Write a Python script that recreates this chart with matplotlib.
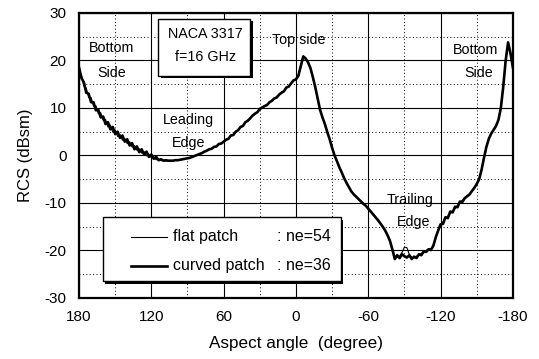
import numpy as np
import matplotlib
matplotlib.use("Agg")
import matplotlib.pyplot as plt
from matplotlib.patches import Rectangle

plt.rcParams["font.family"] = ["Liberation Sans", "DejaVu Sans"]
plt.rcParams["axes.unicode_minus"] = False

# ── data ─────────────────────────────────────────────────────────────────────
angle = np.arange(180, -181, -2)

curved_rcs = [
    18.5, 16.3, 15.4, 13.2, 13.0, 11.2, 11.2, 9.5, 9.6, 8.0,
    8.2, 6.6, 7.0, 5.5, 6.0, 4.5, 5.0, 3.7, 4.2, 2.9,
    3.4, 2.1, 2.6, 1.3, 1.9, 0.7, 1.3, 0.2, 0.8, -0.3,
    0.2, -0.7, -0.3, -1.0, -0.8, -1.1, -1.0, -1.1, -1.1, -1.1,
    -1.0, -1.0, -0.9, -0.8, -0.7, -0.6, -0.5, -0.3, -0.1, 0.1,
    0.3, 0.5, 0.8, 1.0, 1.3, 1.4, 1.8, 1.9, 2.4, 2.5,
    2.9, 3.3, 3.5, 4.2, 4.3, 5.0, 5.3, 6.0, 6.2, 7.0,
    7.3, 7.8, 8.4, 8.8, 9.1, 9.8, 10.1, 10.4, 10.6, 11.2,
    11.5, 12.0, 12.2, 12.8, 13.2, 13.5, 14.3, 14.5, 15.2, 15.8,
    16.0, 16.8, 18.8, 20.8, 20.4, 19.6, 18.4, 16.5, 14.4, 12.0,
    9.6, 8.0, 6.6, 4.9, 3.4, 1.6, 0.0, -1.2, -2.5, -3.6,
    -4.8, -5.8, -6.7, -7.6, -8.2, -8.7, -9.2, -9.7, -10.2, -10.6,
    -11.2, -11.8, -12.4, -13.0, -13.6, -14.3, -15.0, -15.8, -16.8, -18.0,
    -19.8, -21.8, -21.0, -21.6, -20.8, -21.2, -21.5, -21.0, -21.8, -21.3,
    -21.6, -20.8, -21.0, -20.2, -20.3, -19.8, -19.9, -19.0, -17.2, -15.8,
    -14.5, -14.4, -13.0, -13.2, -11.8, -12.0, -10.8, -10.9, -9.7, -9.8,
    -9.0, -8.6, -8.2, -7.5, -6.8, -6.0, -5.0, -3.0, -0.5, 1.8,
    3.5, 4.6, 5.4, 6.2, 7.5, 10.0, 14.5, 20.0, 23.8, 21.5,
    18.5,
]

flat_rcs = [
    18.0, 17.0, 14.6, 14.2, 12.2, 12.2, 10.4, 10.5, 8.8, 9.0,
    7.4, 7.6, 6.0, 6.4, 4.9, 5.4, 4.0, 4.4, 3.2, 3.6,
    2.5, 2.9, 1.8, 2.1, 1.1, 1.4, 0.5, 0.8, -0.1, 0.3,
    -0.5, -0.3, -0.9, -0.7, -1.1, -1.0, -1.2, -1.1, -1.2, -1.1,
    -1.0, -1.0, -0.9, -0.8, -0.7, -0.6, -0.5, -0.3, -0.1, 0.1,
    0.3, 0.6, 0.7, 1.1, 1.2, 1.5, 1.7, 2.0, 2.3, 2.6,
    2.8, 3.4, 3.6, 4.1, 4.4, 4.9, 5.4, 5.9, 6.3, 6.9,
    7.4, 7.9, 8.3, 8.7, 9.2, 9.7, 10.0, 10.3, 10.8, 11.1,
    11.6, 11.9, 12.4, 12.7, 13.3, 13.6, 14.1, 14.6, 15.0, 15.7,
    16.2, 16.6, 18.6, 21.0, 20.6, 19.7, 18.3, 16.3, 14.2, 11.9,
    9.5, 8.1, 6.5, 5.0, 3.3, 1.7, 0.1, -1.3, -2.4, -3.7,
    -4.7, -5.9, -6.6, -7.5, -8.3, -8.6, -9.3, -9.6, -10.3, -10.5,
    -11.3, -11.7, -12.5, -12.9, -13.7, -14.2, -15.1, -15.7, -16.9, -17.8,
    -19.6, -21.3, -21.5, -21.2, -20.4, -19.3, -19.4, -20.8, -21.4, -21.6,
    -21.2, -21.0, -20.6, -20.5, -20.0, -19.6, -19.7, -18.8, -17.4, -15.6,
    -14.6, -14.0, -13.4, -12.8, -12.2, -11.6, -11.2, -10.5, -10.1, -9.4,
    -9.1, -8.5, -8.3, -7.4, -6.9, -6.1, -4.9, -3.1, -0.4, 1.9,
    3.4, 4.7, 5.5, 6.3, 7.4, 10.2, 14.8, 20.3, 23.6, 21.2,
    18.3,
]

x_ticks = [180, 120, 60, 0, -60, -120, -180]
y_ticks = [-30, -20, -10, 0, 10, 20, 30]

# ── figure ───────────────────────────────────────────────────────────────────
fig = plt.figure(figsize=(5.39, 3.59), dpi=100)
ax = fig.add_axes([0.1466, 0.170, 0.805, 0.794])

ax.plot(angle, flat_rcs, color="black", linewidth=0.8, zorder=3)
ax.plot(angle, curved_rcs, color="black", linewidth=1.9, zorder=4)

ax.set_xlim(180, -180)
ax.set_ylim(-30, 30)
ax.set_xticks(x_ticks)
ax.set_yticks(y_ticks)
ax.set_xticks(np.arange(150, -180, -60), minor=True)
ax.set_yticks(np.arange(-25, 30, 10), minor=True)
ax.grid(True, which="major", color="black", linewidth=0.8, linestyle="-")
ax.grid(True, which="minor", color="black", linewidth=0.7, linestyle=(0, (1, 2.5)))
ax.set_axisbelow(True)
ax.tick_params(which="both", length=0, labelsize=11, pad=9)
for s in ax.spines.values():
    s.set_linewidth(1.6)

ax.set_xlabel("Aspect angle  (degree)", fontsize=12.3, labelpad=8)
ax.set_ylabel("RCS (dBsm)", fontsize=12, labelpad=8)

# region labels
lab = dict(fontsize=10.3, ha="center", va="center", zorder=5)
ax.text(153, 22.6, "Bottom", **lab)
ax.text(153, 17.4, "Side", **lab)
ax.text(89, 7.5, "Leading", **lab)
ax.text(89, 2.6, "Edge", **lab)
ax.text(-2, 24.3, "Top side", **lab)
ax.text(-149, 22.2, "Bottom", **lab)
ax.text(-152, 17.4, "Side", **lab)
ax.text(-95, -9.4, "Trailing", **lab)
ax.text(-98, -14.0, "Edge", **lab)

# NACA box with shadow
def shadow_box(x0, y0, w, h):
    ax.add_patch(Rectangle((x0 + 0.006, y0 - 0.01), w, h, transform=ax.transAxes,
                           facecolor="black", edgecolor="none", zorder=6))
    ax.add_patch(Rectangle((x0, y0), w, h, transform=ax.transAxes,
                           facecolor="white", edgecolor="black", linewidth=1.0, zorder=7))

shadow_box(0.182, 0.780, 0.212, 0.200)
ax.text(0.292, 0.925, "NACA 3317", transform=ax.transAxes, fontsize=10.3,
        ha="center", va="center", zorder=8)
ax.text(0.292, 0.845, "f=16 GHz", transform=ax.transAxes, fontsize=10.3,
        ha="center", va="center", zorder=8)

# legend box drawn by hand
shadow_box(0.055, 0.058, 0.548, 0.226)
ax.plot([0.120, 0.203], [0.214, 0.214], transform=ax.transAxes,
        color="black", linewidth=0.8, zorder=8)
ax.plot([0.120, 0.203], [0.113, 0.113], transform=ax.transAxes,
        color="black", linewidth=1.9, zorder=8)
ax.text(0.216, 0.214, "flat patch", transform=ax.transAxes, fontsize=11.5,
        ha="left", va="center", zorder=8)
ax.text(0.216, 0.113, "curved patch", transform=ax.transAxes, fontsize=11.5,
        ha="left", va="center", zorder=8)
ax.text(0.456, 0.214, ": ne=54", transform=ax.transAxes, fontsize=11.5,
        ha="left", va="center", zorder=8)
ax.text(0.456, 0.113, ": ne=36", transform=ax.transAxes, fontsize=11.5,
        ha="left", va="center", zorder=8)

fig.savefig("out.png", dpi=100, facecolor="white")
